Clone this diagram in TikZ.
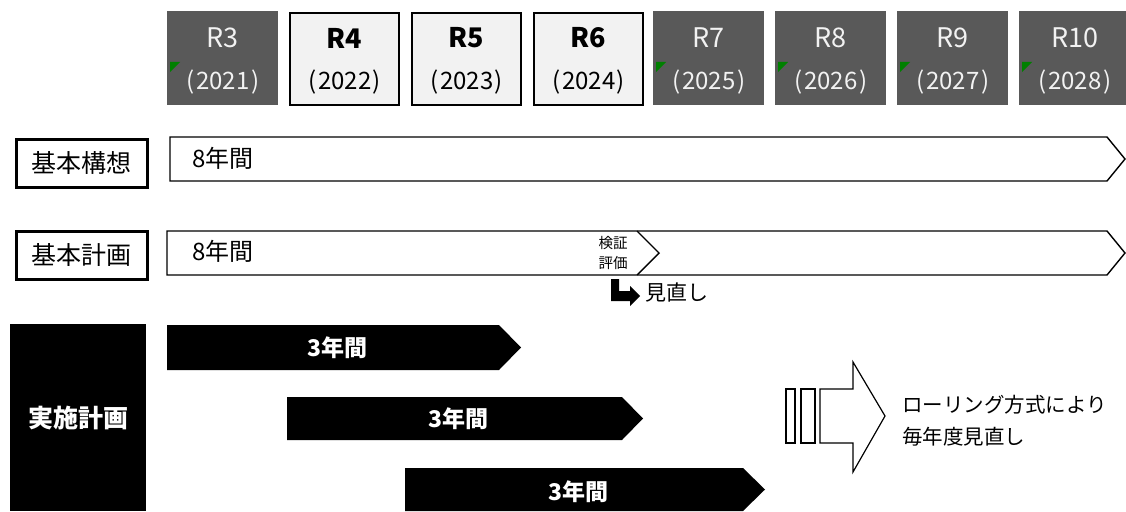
\documentclass[tikz,border=0pt]{standalone}
\usepackage{fontspec}
\setmainfont{Noto Sans CJK JP}
\usetikzlibrary{calc}
\definecolor{darkcell}{HTML}{595959}
\definecolor{lightcell}{HTML}{F2F2F2}
\definecolor{markgreen}{HTML}{008000}
\newcommand{\fsz}[1]{\fontsize{#1}{#1}\selectfont}
\tikzset{
  darkbox/.style={fill=darkcell, draw=none, minimum width=111pt, minimum height=94pt, anchor=north west, inner sep=0pt},
  lightbox/.style={fill=lightcell, draw=black, line width=2pt, minimum width=109pt, minimum height=92pt, anchor=north west, inner sep=0pt},
  darktxt/.style={text=lightcell, font=\fsz{27}, inner sep=0pt},
  lighttxt/.style={text=black, font=\fsz{27}\bfseries, inner sep=0pt},
  yeardark/.style={text=lightcell, font=\fsz{24}, inner sep=0pt},
  yearlight/.style={text=black, font=\fsz{24}, inner sep=0pt},
  labelbox/.style={draw=black, line width=3pt, fill=white, minimum width=131pt, minimum height=48pt, anchor=north west, inner sep=0pt, font=\fsz{25}},
  outlinearrow/.style={draw=black, line width=1.4pt, fill=white, line join=miter},
  blackarrow/.style={fill=black, draw=none},
  whitebold/.style={text=white, font=\fsz{23}\bfseries, inner sep=0pt},
  plaintxt/.style={text=black, inner sep=0pt},
}
\begin{document}
\begin{tikzpicture}[x=1pt,y=-1pt]
\useasboundingbox[fill=white] (0,0) rectangle (1126,511);

% ---- year cells ----
\node[darkbox] (c3) at (167,11) {};
\node[lightbox] (c4) at (289,12) {};
\node[lightbox] (c5) at (411,12) {};
\node[lightbox] (c6) at (533,12) {};
\node[darkbox] (c7) at (653,11) {};
\node[darkbox] (c8) at (775,11) {};
\node[darkbox] (c9) at (897,11) {};
\node[darkbox] (c10) at (1019,11) {};

\foreach \c/\r/\y in {c3/R3/2021, c7/R7/2025, c8/R8/2026, c9/R9/2027, c10/R10/2028}{
  \node[darktxt] (\c r) at ($(\c.north)+(0,27)$) {\r};
  \node[yeardark] (\c y) at ($(\c.north)+(0,71)$) {(\kern2pt\y\kern1.5pt)};
  \fill[markgreen] ($(\c.north west)+(3,51)$) -- ++(10,0) -- ++(-10,10) -- cycle;
}
\foreach \c/\r/\y in {c4/R4/2022, c5/R5/2023, c6/R6/2024}{
  \node[lighttxt] (\c r) at ($(\c.north)+(0,26)$) {\r};
  \node[yearlight] (\c y) at ($(\c.north)+(0,70)$) {(\kern2pt\y\kern1.5pt)};
}

% ---- 基本構想 ----
\node[labelbox] (kousou) at (14.5,137.5) {基本構想};
\draw[outlinearrow] (170,137) -- (1107,137) -- (1125,159) -- (1107,181) -- (170,181) -- cycle;
\node[plaintxt, font=\fsz{24}, anchor=west] (k8) at (192,158) {8年間};

% ---- 基本計画 ----
\node[labelbox] (keikaku) at (14.5,229.5) {基本計画};
\draw[outlinearrow] (167,231) -- (1107,231) -- (1125,253) -- (1107,275) -- (167,275) -- cycle;
\draw[black, line width=1.4pt, line join=miter] (637,231) -- (659,253) -- (637,275);
\node[plaintxt, font=\fsz{24}, anchor=west] (p8) at (192,251) {8年間};
\node[plaintxt, font=\fsz{14.5}] (kensho) at (613,243) {検証};
\node[plaintxt, font=\fsz{14.5}] (hyoka) at (613,263) {評価};
\fill[black] (611,279) -- (619,279) -- (619,291) -- (630,291) -- (630,286) -- (640,296) -- (630,306) -- (630,301) -- (611,301) -- cycle;
\node[plaintxt, font=\fsz{21}, anchor=west] (minaoshi) at (645,292) {見直し};

% ---- 実施計画 ----
\node[fill=black, minimum width=136pt, minimum height=187pt, anchor=north west, inner sep=0pt,
      text=white, font=\fsz{25}\bfseries] (jisshi) at (10,324) {実施計画};

\fill[blackarrow] (167,325) -- (499,325) -- (521,347.5) -- (499,370) -- (167,370) -- cycle;
\node[whitebold] (a1) at (337,348) {3年間};
\fill[blackarrow] (287,397) -- (622,397) -- (643,418.5) -- (622,440) -- (287,440) -- cycle;
\node[whitebold] (a2) at (458,419) {3年間};
\fill[blackarrow] (405,468) -- (743,468) -- (765,489.5) -- (743,511) -- (405,511) -- cycle;
\node[whitebold] (a3) at (578,492) {3年間};

% ---- rolling arrow ----
\draw[black, line width=1.2pt, fill=white] (786,389) rectangle (795,443);
\draw[black, line width=1.2pt, fill=white] (801,389) rectangle (815,443);
\draw[black, line width=1.2pt, fill=white, line join=miter] (820,389) -- (853,389) -- (853,362) -- (885,416) -- (853,472) -- (853,443) -- (820,443) -- cycle;
\node[plaintxt, font=\fsz{20.5}, anchor=west] (roll1) at (902,405) {ローリング方式により};
\node[plaintxt, font=\fsz{20.5}, anchor=west] (roll2) at (902,437) {毎年度見直し};
\end{tikzpicture}
\end{document}
